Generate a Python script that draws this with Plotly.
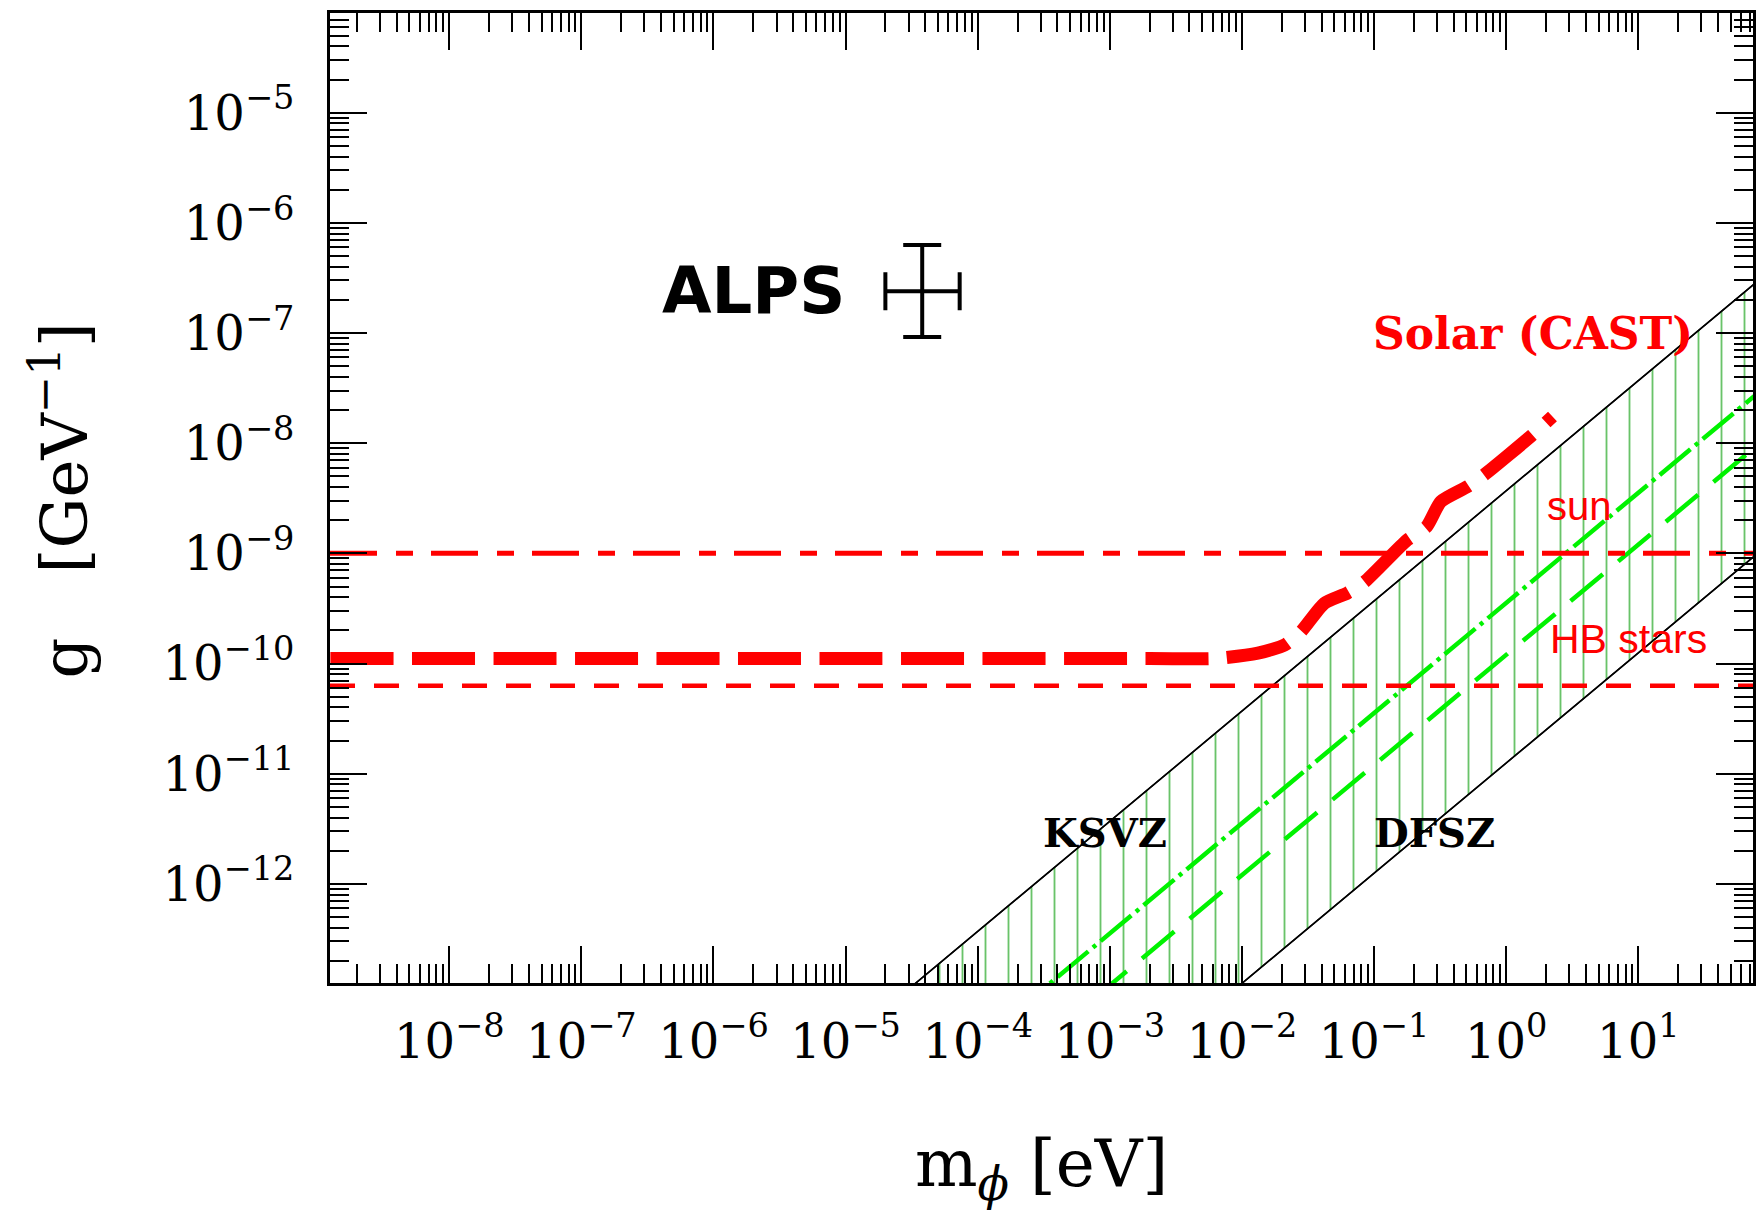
import plotly.graph_objects as go

# ---------------- data ----------------
# axis extents (log10) and tick labels
x_log_range = [-8.9026, 1.868]
y_log_range = [-12.9, -4.095]
x_tick_vals = [1e-8, 1e-7, 1e-6, 1e-5, 1e-4, 1e-3, 1e-2, 1e-1, 1e0, 1e1]
x_tick_text = ["10<sup>−8</sup>", "10<sup>−7</sup>", "10<sup>−6</sup>", "10<sup>−5</sup>",
               "10<sup>−4</sup>", "10<sup>−3</sup>", "10<sup>−2</sup>", "10<sup>−1</sup>",
               "10<sup>0</sup>", "10<sup>1</sup>"]
y_tick_vals = [1e-12, 1e-11, 1e-10, 1e-9, 1e-8, 1e-7, 1e-6, 1e-5]
y_tick_text = ["10<sup>−12</sup>", "10<sup>−11</sup>", "10<sup>−10</sup>", "10<sup>−9</sup>",
               "10<sup>−8</sup>", "10<sup>−7</sup>", "10<sup>−6</sup>", "10<sup>−5</sup>"]

# axion model band (straight lines g ∝ m), end points
band_m = [1e-6, 1e3]
ksvz_g = [3.7e-15, 3.7e-6]
dfsz_g = [1.25e-17, 1.25e-8]
green_dashdot_g = [3.55e-16, 3.55e-7]
green_dashed_g = [1.2e-16, 1.2e-7]

# horizontal astrophysical bounds
sun_g = 1.0e-9
hb_g = 6.3e-11

# Solar (CAST) limit curve
cast_m = [1.26e-9, 2.0e-3, 6.3e-3, 1.32e-2, 2.1e-2, 2.8e-2, 4.2e-2, 6.3e-2, 8.5e-2,
          0.178, 0.25, 0.32, 0.51, 0.68, 1.58, 2.24]
cast_g = [1.11e-10, 1.11e-10, 1.11e-10, 1.24e-10, 1.47e-10, 1.95e-10, 3.52e-10, 4.37e-10,
          5.53e-10, 1.32e-9, 1.75e-9, 2.95e-9, 4.04e-9, 5.15e-9, 1.19e-8, 1.75e-8]

# ALPS cross
alps_m = [3.8e-5]
alps_m_lo = [2.0e-5]
alps_m_hi = [7.3e-5]
alps_g = [2.4e-7]
alps_g_lo = [9.2e-8]
alps_g_hi = [6.3e-7]

# ---------------- figure ----------------
x_edges = [10 ** x_log_range[0], 10 ** x_log_range[1]]
RED = "#ff0000"
GREEN = "#00f200"

fig = go.Figure()

# band hatching
fig.add_trace(go.Scatter(x=band_m, y=dfsz_g, mode="lines",
                         line=dict(color="black", width=1.5), showlegend=False))
fig.add_trace(go.Scatter(x=band_m, y=ksvz_g, mode="lines",
                         line=dict(color="black", width=1.5), showlegend=False,
                         fill="tonexty", fillcolor="rgba(0,0,0,0)",
                         fillpattern=dict(shape="|", size=23, solidity=0.08,
                                          fgcolor="rgb(105,195,105)",
                                          bgcolor="rgba(255,255,255,0)",
                                          fillmode="replace")))
# band edges on top of the hatching
fig.add_trace(go.Scatter(x=band_m, y=dfsz_g, mode="lines",
                         line=dict(color="black", width=1.5), showlegend=False))
fig.add_trace(go.Scatter(x=band_m, y=ksvz_g, mode="lines",
                         line=dict(color="black", width=1.5), showlegend=False))

# green model lines
fig.add_trace(go.Scatter(x=band_m, y=green_dashdot_g, mode="lines",
                         line=dict(color=GREEN, width=4.5, dash="40px,6px,4px,6px"),
                         showlegend=False))
fig.add_trace(go.Scatter(x=band_m, y=green_dashed_g, mode="lines",
                         line=dict(color=GREEN, width=4.5, dash="42px,20px"),
                         showlegend=False))

# horizontal bounds
fig.add_trace(go.Scatter(x=x_edges, y=[sun_g, sun_g], mode="lines",
                         line=dict(color=RED, width=5, dash="47px,19px,17px,18px"),
                         showlegend=False))
fig.add_trace(go.Scatter(x=x_edges, y=[hb_g, hb_g], mode="lines",
                         line=dict(color=RED, width=4.5, dash="25px,19px"),
                         showlegend=False))

# CAST curve
fig.add_trace(go.Scatter(x=cast_m, y=cast_g, mode="lines",
                         line=dict(color=RED, width=13, dash="63px,18.5px",
                                   shape="spline", smoothing=0.6),
                         showlegend=False))

# ALPS cross
fig.add_trace(go.Scatter(
    x=alps_m, y=alps_g, mode="markers", marker=dict(size=0.1, color="black"),
    error_x=dict(type="data", symmetric=False,
                 array=[alps_m_hi[0] - alps_m[0]], arrayminus=[alps_m[0] - alps_m_lo[0]],
                 thickness=4, width=19, color="black"),
    error_y=dict(type="data", symmetric=False,
                 array=[alps_g_hi[0] - alps_g[0]], arrayminus=[alps_g[0] - alps_g_lo[0]],
                 thickness=4, width=19, color="black"),
    showlegend=False))

SERIF = "DejaVu Serif"
annotations = [
    dict(x=-5.70, y=-6.62, xref="x", yref="y", text="<b>ALPS</b>", showarrow=False,
         font=dict(family="DejaVu Sans", size=64, color="black")),
    dict(x=0.206, y=-7.0, xref="x", yref="y", text="<b>Solar (CAST)</b>", showarrow=False,
         font=dict(family=SERIF, size=44, color=RED)),
    dict(x=0.557, y=-8.57, xref="x", yref="y", text="sun", showarrow=False,
         font=dict(family="Liberation Sans", size=40, color=RED)),
    dict(x=0.925, y=-9.78, xref="x", yref="y", text="HB stars", showarrow=False,
         font=dict(family="Liberation Sans", size=41, color=RED)),
    dict(x=-3.04, y=-11.53, xref="x", yref="y", text="<b>KSVZ</b>", showarrow=False,
         font=dict(family=SERIF, size=40, color="black")),
    dict(x=-0.54, y=-11.53, xref="x", yref="y", text="<b>DFSZ</b>", showarrow=False,
         font=dict(family=SERIF, size=40, color="black")),
    # axis titles
    dict(x=0.5, y=-0.1907, xref="paper", yref="paper", text="m<sub><i>ϕ</i></sub> [eV]",
         showarrow=False, xanchor="center", yanchor="middle",
         font=dict(family=SERIF, size=66, color="black")),
    dict(x=-0.19, y=0.497, xref="paper", yref="paper", text="g\u2003[GeV<sup>−1</sup>]",
         showarrow=False, xanchor="center", yanchor="middle", textangle=-90,
         font=dict(family=SERIF, size=64, color="black")),
]

axis_common = dict(
    type="log", showgrid=False, zeroline=False, showline=True, linecolor="black",
    linewidth=3, mirror="allticks", ticks="inside", ticklen=37, tickwidth=2,
    tickcolor="black", tickmode="array",
    tickfont=dict(family=SERIF, size=48, color="black"),
    minor=dict(ticks="inside", ticklen=19, tickwidth=2, tickcolor="black",
               dtick="D1", showgrid=False),
)

fig.update_layout(
    width=1756, height=1221,
    margin=dict(l=330, r=0, t=13, b=238),
    paper_bgcolor="white", plot_bgcolor="white",
    xaxis=dict(range=x_log_range, tickvals=x_tick_vals, ticktext=x_tick_text,
               ticklabelstandoff=14, **axis_common),
    yaxis=dict(range=y_log_range, tickvals=y_tick_vals, ticktext=y_tick_text,
               ticklabelstandoff=23, **axis_common),
    annotations=annotations,
    showlegend=False,
)

# remove the default page margin so the 1756x1221 figure fills the window exactly
fig.write_html("out.html",
               config={"displayModeBar": False},
               post_script="document.body.style.margin='0';document.body.style.overflow='hidden';")
